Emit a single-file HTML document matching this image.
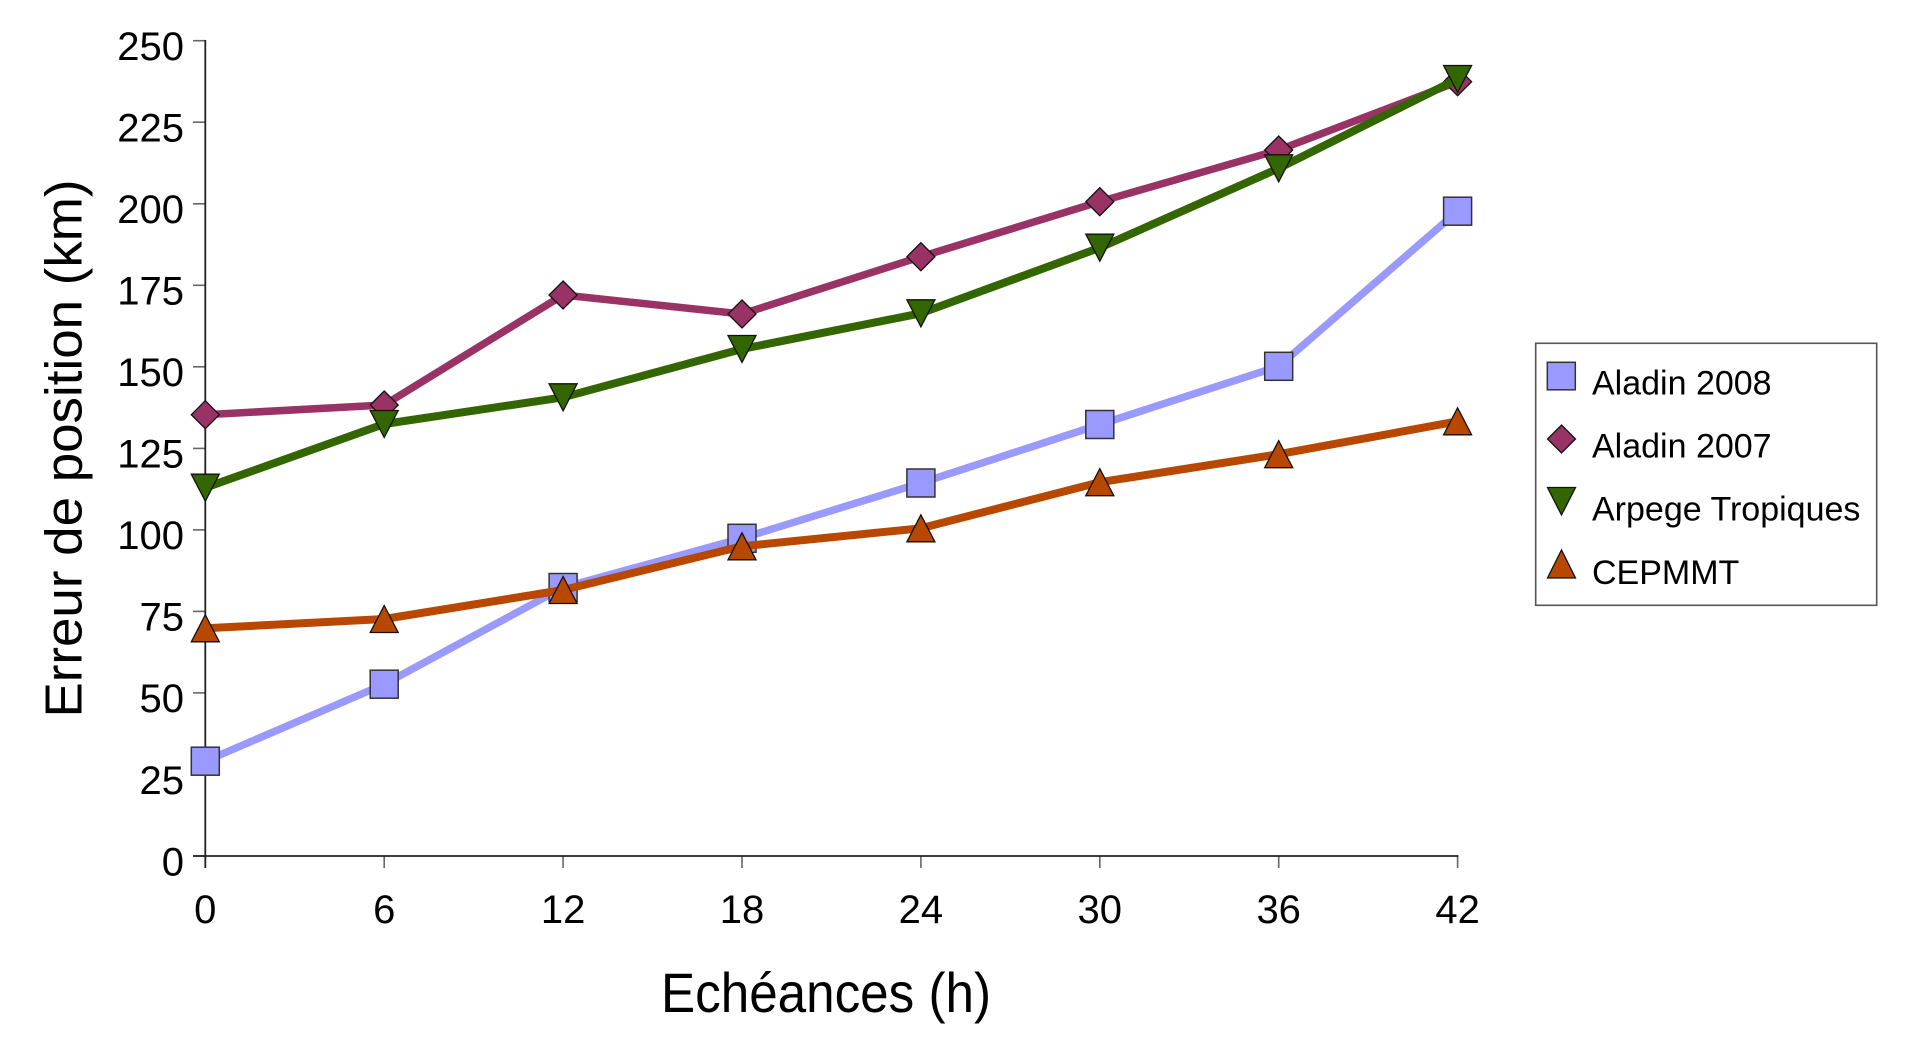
<!DOCTYPE html>
<html>
<head>
<meta charset="utf-8">
<style>
  html, body { margin: 0; padding: 0; background: #ffffff; }
  svg { display: block; }
  text { font-family: "Liberation Sans", Arial, sans-serif; fill: #000; }
</style>
</head>
<body>
<svg width="1920" height="1053" viewBox="0 0 1920 1053" xmlns="http://www.w3.org/2000/svg">
  <rect x="0" y="0" width="1920" height="1053" fill="#ffffff"/>

  <!-- Y ticks -->
  <g stroke="#666" stroke-width="1.6">
    <line x1="193" y1="40.7" x2="205.3" y2="40.7"/>
    <line x1="193" y1="122.2" x2="205.3" y2="122.2"/>
    <line x1="193" y1="203.8" x2="205.3" y2="203.8"/>
    <line x1="193" y1="285.3" x2="205.3" y2="285.3"/>
    <line x1="193" y1="366.8" x2="205.3" y2="366.8"/>
    <line x1="193" y1="448.4" x2="205.3" y2="448.4"/>
    <line x1="193" y1="529.9" x2="205.3" y2="529.9"/>
    <line x1="193" y1="611.4" x2="205.3" y2="611.4"/>
    <line x1="193" y1="692.9" x2="205.3" y2="692.9"/>
    <line x1="193" y1="774.5" x2="205.3" y2="774.5"/>
    <line x1="193" y1="856" x2="205.3" y2="856"/>
  </g>
  <!-- X ticks -->
  <g stroke="#666" stroke-width="1.6">
    <line x1="205.3" y1="856" x2="205.3" y2="868"/>
    <line x1="384.2" y1="856" x2="384.2" y2="868"/>
    <line x1="563.1" y1="856" x2="563.1" y2="868"/>
    <line x1="742.0" y1="856" x2="742.0" y2="868"/>
    <line x1="920.9" y1="856" x2="920.9" y2="868"/>
    <line x1="1099.8" y1="856" x2="1099.8" y2="868"/>
    <line x1="1278.7" y1="856" x2="1278.7" y2="868"/>
    <line x1="1457.6" y1="856" x2="1457.6" y2="868"/>
  </g>
  <!-- Axes -->
  <line x1="205.3" y1="40" x2="205.3" y2="868" stroke="#222" stroke-width="1.8"/>
  <line x1="193" y1="856" x2="1458.5" y2="856" stroke="#222" stroke-width="1.8"/>

  <!-- Y tick labels -->
  <g font-size="40" text-anchor="end">
    <text x="184" y="60">250</text>
    <text x="184" y="141.5">225</text>
    <text x="184" y="223">200</text>
    <text x="184" y="304.6">175</text>
    <text x="184" y="386.1">150</text>
    <text x="184" y="467.6">125</text>
    <text x="184" y="549.2">100</text>
    <text x="184" y="630.7">75</text>
    <text x="184" y="712.2">50</text>
    <text x="184" y="793.8">25</text>
    <text x="184" y="875.3">0</text>
  </g>
  <!-- X tick labels -->
  <g font-size="40" text-anchor="middle">
    <text x="205.3" y="923">0</text>
    <text x="384.2" y="923">6</text>
    <text x="563.1" y="923">12</text>
    <text x="742.0" y="923">18</text>
    <text x="920.9" y="923">24</text>
    <text x="1099.8" y="923">30</text>
    <text x="1278.7" y="923">36</text>
    <text x="1457.6" y="923">42</text>
  </g>

  <!-- Axis titles -->
  <text x="661" y="1012" font-size="56" textLength="330" lengthAdjust="spacingAndGlyphs">Echéances (h)</text>
  <text transform="translate(81.7,448.5) rotate(-90)" x="0" y="0" font-size="52" text-anchor="middle" textLength="538" lengthAdjust="spacingAndGlyphs">Erreur de position (km)</text>

  <!-- Series: Aladin 2008 -->
  <polyline fill="none" stroke="#9999FF" stroke-width="7.5" stroke-linejoin="round"
    points="205.3,761.2 384.2,684.2 563.1,587.5 742.0,538.3 920.9,483 1099.8,424.5 1278.7,366.3 1457.6,211.2"/>
  <g fill="#9999FF" stroke="#333" stroke-width="1.5">
    <rect x="191.3" y="747.2" width="28" height="28"/>
    <rect x="370.2" y="670.2" width="28" height="28"/>
    <rect x="549.1" y="573.5" width="28" height="28"/>
    <rect x="728.0" y="524.3" width="28" height="28"/>
    <rect x="906.9" y="469" width="28" height="28"/>
    <rect x="1085.8" y="410.5" width="28" height="28"/>
    <rect x="1264.7" y="352.3" width="28" height="28"/>
    <rect x="1443.6" y="197.2" width="28" height="28"/>
  </g>

  <!-- Series: Aladin 2007 -->
  <polyline fill="none" stroke="#993366" stroke-width="7.5" stroke-linejoin="round"
    points="205.3,414.7 384.2,405 563.1,295 742.0,314 920.9,256.7 1099.8,201.7 1278.7,150 1457.6,81.7"/>
  <g fill="#993366" stroke="#111" stroke-width="1.3">
    <polygon points="205.3,400.7 219.3,414.7 205.3,428.7 191.3,414.7"/>
    <polygon points="384.2,391 398.2,405 384.2,419 370.2,405"/>
    <polygon points="563.1,281 577.1,295 563.1,309 549.1,295"/>
    <polygon points="742.0,300 756.0,314 742.0,328 728.0,314"/>
    <polygon points="920.9,242.7 934.9,256.7 920.9,270.7 906.9,256.7"/>
    <polygon points="1099.8,187.7 1113.8,201.7 1099.8,215.7 1085.8,201.7"/>
    <polygon points="1278.7,136 1292.7,150 1278.7,164 1264.7,150"/>
    <polygon points="1457.6,67.7 1471.6,81.7 1457.6,95.7 1443.6,81.7"/>
  </g>

  <!-- Series: Arpege Tropiques -->
  <polyline fill="none" stroke="#336600" stroke-width="8" stroke-linejoin="round"
    points="205.3,487.7 384.2,424 563.1,397.3 742.0,349 920.9,313.3 1099.8,247.7 1278.7,168.3 1457.6,79"/>
  <g fill="#336600" stroke="#111" stroke-width="1.3">
    <polygon points="191.3,474.2 219.3,474.2 205.3,501.2"/>
    <polygon points="370.2,410.5 398.2,410.5 384.2,437.5"/>
    <polygon points="549.1,383.8 577.1,383.8 563.1,410.8"/>
    <polygon points="728.0,335.5 756.0,335.5 742.0,362.5"/>
    <polygon points="906.9,299.8 934.9,299.8 920.9,326.8"/>
    <polygon points="1085.8,234.2 1113.8,234.2 1099.8,261.2"/>
    <polygon points="1264.7,154.8 1292.7,154.8 1278.7,181.8"/>
    <polygon points="1443.6,65.5 1471.6,65.5 1457.6,92.5"/>
  </g>

  <!-- Series: CEPMMT -->
  <polyline fill="none" stroke="#B84700" stroke-width="8" stroke-linejoin="round"
    points="205.3,628.3 384.2,619 563.1,590 742.0,546.3 920.9,528.3 1099.8,482.2 1278.7,454.2 1457.6,421.3"/>
  <g fill="#B84700" stroke="#111" stroke-width="1.3">
    <polygon points="191.3,641.8 219.3,641.8 205.3,614.8"/>
    <polygon points="370.2,632.5 398.2,632.5 384.2,605.5"/>
    <polygon points="549.1,603.5 577.1,603.5 563.1,576.5"/>
    <polygon points="728.0,559.8 756.0,559.8 742.0,532.8"/>
    <polygon points="906.9,541.8 934.9,541.8 920.9,514.8"/>
    <polygon points="1085.8,495.7 1113.8,495.7 1099.8,468.7"/>
    <polygon points="1264.7,467.7 1292.7,467.7 1278.7,440.7"/>
    <polygon points="1443.6,434.8 1471.6,434.8 1457.6,407.8"/>
  </g>

  <!-- Legend -->
  <rect x="1535.7" y="343.3" width="341" height="262" fill="#ffffff" stroke="#555" stroke-width="1.6"/>
  <rect x="1547.3" y="362.3" width="28" height="27.5" fill="#9999FF" stroke="#333" stroke-width="1.5"/>
  <polygon points="1561.5,425 1575.5,439 1561.5,453 1547.5,439" fill="#993366" stroke="#111" stroke-width="1.3"/>
  <polygon points="1547.5,487.5 1575.5,487.5 1561.5,515" fill="#336600" stroke="#111" stroke-width="1.3"/>
  <polygon points="1547.5,578 1575.5,578 1561.5,550" fill="#B84700" stroke="#111" stroke-width="1.3"/>
  <g font-size="34">
    <text x="1592" y="394.5">Aladin 2008</text>
    <text x="1592" y="457.5">Aladin 2007</text>
    <text x="1592" y="520.5">Arpege Tropiques</text>
    <text x="1592" y="584">CEPMMT</text>
  </g>
</svg>
</body>
</html>
